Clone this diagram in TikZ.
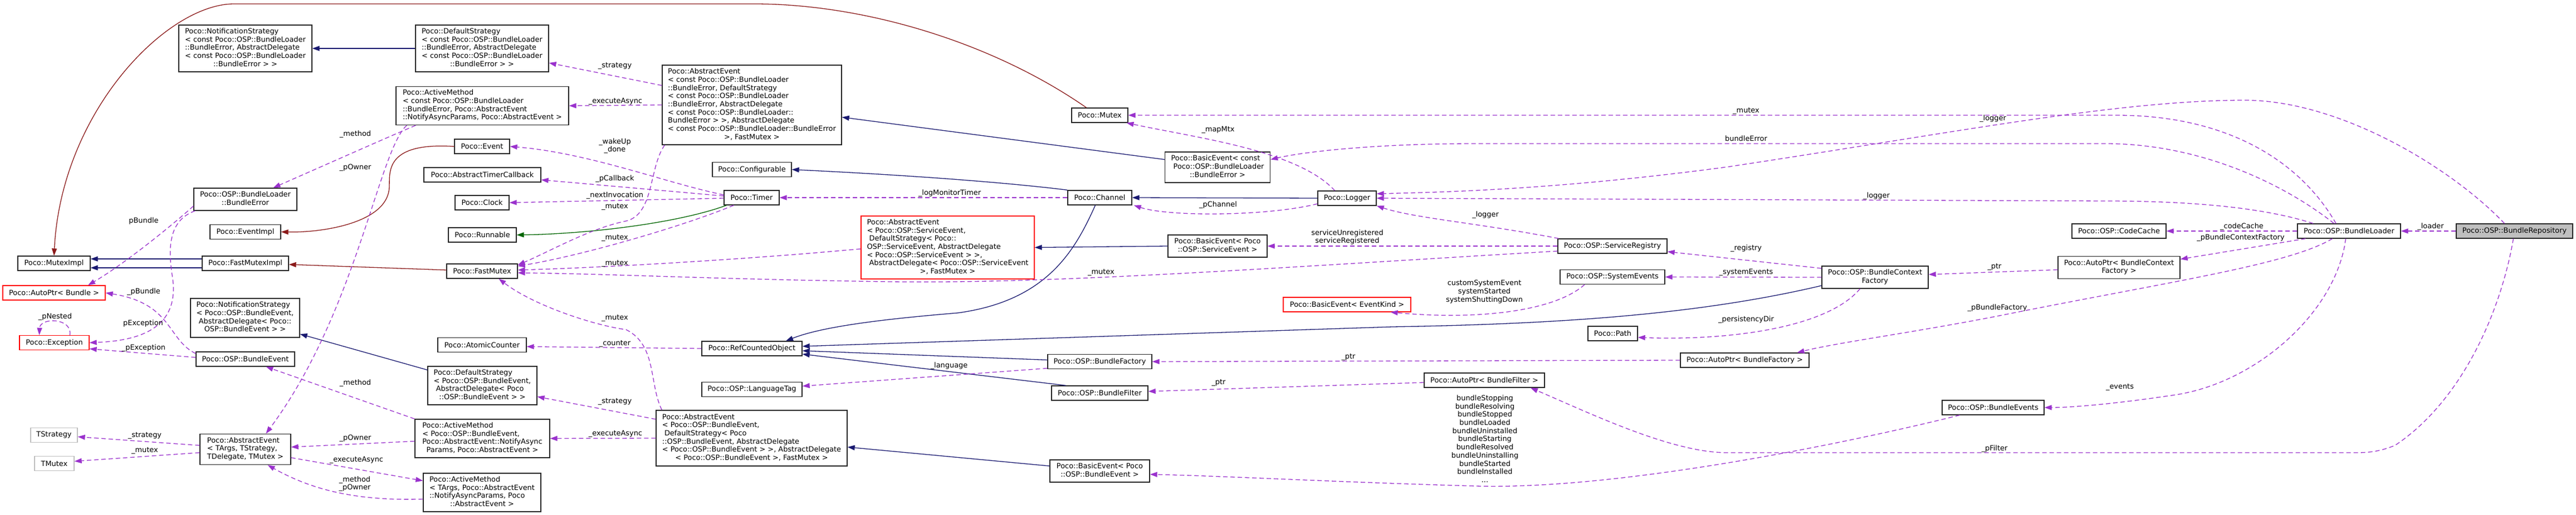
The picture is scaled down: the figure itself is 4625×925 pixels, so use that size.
\documentclass[tikz,border=0pt]{standalone}
\usepackage{fontspec}
\setmainfont{DejaVu Sans}
\usepackage{xcolor}
\usetikzlibrary{arrows.meta}

\definecolor{midblue}{HTML}{191970}
\definecolor{dkgreen}{HTML}{006400}
\definecolor{fbred}{HTML}{8B1A1A}
\definecolor{orchid}{HTML}{9A32CD}
\definecolor{tplgray}{HTML}{BFBFBF}

% left aligned lines, last line centred
\newcommand{\cname}[2]{\begin{tabular}{@{}l@{}}#1\\\multicolumn{1}{@{}c@{}}{#2}\end{tabular}}

\begin{document}
\begin{tikzpicture}[x=1pt, y=-1pt]
				\tikzstyle{every node}=[font=\fontsize{12.9}{14.7}\selectfont];
				\tikzstyle{cls}=[draw=black!85, line width=1.3pt, fill=white, inner sep=0pt];
				\tikzstyle{inc}=[cls, draw=red];
				\tikzstyle{tpl}=[cls, draw=tplgray];
				\tikzstyle{rootcls}=[cls, fill=tplgray];
				\tikzstyle{lbl}=[inner sep=0pt, align=center];
				\tikzstyle{pub}=[draw=midblue, line width=1.3pt, -{Triangle[length=13pt,width=9pt]}];
				\tikzstyle{prot}=[pub, draw=dkgreen, -{Triangle[length=13pt,width=9pt]}];
				\tikzstyle{priv}=[pub, draw=fbred, -{Triangle[length=13pt,width=9pt]}];
				\tikzstyle{member}=[draw=orchid, line width=1.3pt, dash pattern=on 8pt off 5pt, -{Triangle[length=13pt,width=9pt]}];

				\useasboundingbox (0,0) rectangle (4625,925);

				%Column 1
				\node[cls, minimum width=130pt, minimum height=26pt] (mtxImpl) at (97,473) {Poco::MutexImpl};
				\node[inc, minimum width=184pt, minimum height=26pt] (apBundle) at (97,526) {Poco::AutoPtr< Bundle >};
				\node[inc, minimum width=125pt, minimum height=26pt] (exc) at (97.5,615.5) {Poco::Exception};
				\node[tpl, minimum width=84pt, minimum height=26pt] (tStrat) at (97,781.5) {TStrategy};
				\node[tpl, minimum width=71pt, minimum height=26pt] (tMutex) at (97.5,832.5) {TMutex};

				%Column 2
				\node[cls, minimum width=239pt, minimum height=84pt] (nsBE) at (440.5,87) {\cname{Poco::NotificationStrategy\\< const Poco::OSP::BundleLoader\\::BundleError, AbstractDelegate\\< const Poco::OSP::BundleLoader}{::BundleError > >}};
				\node[cls, minimum width=185pt, minimum height=40pt] (bErr) at (440.5,358) {\cname{Poco::OSP::BundleLoader}{::BundleError}};
				\node[cls, minimum width=127pt, minimum height=26pt] (evImpl) at (440.5,416.5) {Poco::EventImpl};
				\node[cls, minimum width=155pt, minimum height=26pt] (fmImpl) at (440.5,473) {Poco::FastMutexImpl};
				\node[cls, minimum width=196pt, minimum height=70pt] (nsEv) at (440,571) {\cname{Poco::NotificationStrategy\\< Poco::OSP::BundleEvent,\\\ AbstractDelegate< Poco::}{OSP::BundleEvent > >}};
				\node[cls, minimum width=177pt, minimum height=26pt] (bEv) at (440.5,645) {Poco::OSP::BundleEvent};
				\node[cls, minimum width=163pt, minimum height=55pt] (aeT) at (440.5,807) {\cname{Poco::AbstractEvent\\< TArgs, TStrategy,}{TDelegate, TMutex >}};

				%Column 3
				\node[cls, minimum width=239pt, minimum height=84pt] (dsBE) at (865.5,87) {\cname{Poco::DefaultStrategy\\< const Poco::OSP::BundleLoader\\::BundleError, AbstractDelegate\\< const Poco::OSP::BundleLoader}{::BundleError > >}};
				\node[cls, minimum width=310pt, minimum height=69pt] (amBE) at (866,190) {\cname{Poco::ActiveMethod\\< const Poco::OSP::BundleLoader\\::BundleError, Poco::AbstractEvent}{::NotifyAsyncParams, Poco::AbstractEvent >}};
				\node[cls, minimum width=99pt, minimum height=26pt] (event) at (865.5,263) {Poco::Event};
				\node[cls, minimum width=210pt, minimum height=26pt] (atc) at (866,314) {Poco::AbstractTimerCallback};
				\node[cls, minimum width=97pt, minimum height=26pt] (clock) at (865.5,364) {Poco::Clock};
				\node[cls, minimum width=122pt, minimum height=26pt] (runnable) at (866,422) {Poco::Runnable};
				\node[cls, minimum width=127pt, minimum height=26pt] (fastMutex) at (865.5,487) {Poco::FastMutex};
				\node[cls, minimum width=159pt, minimum height=26pt] (atomic) at (865.5,619.5) {Poco::AtomicCounter};
				\node[cls, minimum width=196pt, minimum height=69pt] (dsEv) at (866,692.5) {\cname{Poco::DefaultStrategy\\< Poco::OSP::BundleEvent,\\\ AbstractDelegate< Poco}{::OSP::BundleEvent > >}};
				\node[cls, minimum width=242pt, minimum height=69pt] (amEv) at (866,787.5) {\cname{Poco::ActiveMethod\\< Poco::OSP::BundleEvent,\\Poco::AbstractEvent::NotifyAsync}{Params, Poco::AbstractEvent >}};
				\node[cls, minimum width=211pt, minimum height=69pt] (amT) at (865.5,884.5) {\cname{Poco::ActiveMethod\\< TArgs, Poco::AbstractEvent\\::NotifyAsyncParams, Poco}{::AbstractEvent >}};

				%Column 4
				\node[cls, minimum width=322pt, minimum height=143pt] (aeBE) at (1350,188.5) {\cname{Poco::AbstractEvent\\< const Poco::OSP::BundleLoader\\::BundleError, DefaultStrategy\\< const Poco::OSP::BundleLoader\\::BundleError, AbstractDelegate\\< const Poco::OSP::BundleLoader::\\BundleError > >, AbstractDelegate\\< const Poco::OSP::BundleLoader::BundleError}{>, FastMutex >}};
				\node[cls, minimum width=142pt, minimum height=26pt] (configurable) at (1350,304.5) {Poco::Configurable};
				\node[cls, minimum width=99pt, minimum height=26pt] (timer) at (1349.5,355) {Poco::Timer};
				\node[cls, minimum width=180pt, minimum height=26pt] (refCnt) at (1350,626) {Poco::RefCountedObject};
				\node[cls, minimum width=180pt, minimum height=26pt] (langTag) at (1350,699.5) {Poco::OSP::LanguageTag};
				\node[cls, minimum width=343pt, minimum height=100pt] (aeEv) at (1349.5,787) {\cname{Poco::AbstractEvent\\< Poco::OSP::BundleEvent,\\\ DefaultStrategy< Poco\\::OSP::BundleEvent, AbstractDelegate\\< Poco::OSP::BundleEvent > >, AbstractDelegate}{< Poco::OSP::BundleEvent >, FastMutex >}};

				%Column 5
				\node[inc, minimum width=311pt, minimum height=113pt] (aeSE) at (1701.5,444.5) {\cname{Poco::AbstractEvent\\< Poco::OSP::ServiceEvent,\\\ DefaultStrategy< Poco::\\OSP::ServiceEvent, AbstractDelegate\\< Poco::OSP::ServiceEvent > >,\\\ AbstractDelegate< Poco::OSP::ServiceEvent}{>, FastMutex >}};

				%Column 6
				\node[cls, minimum width=101pt, minimum height=26pt] (mutex) at (1974.5,207) {Poco::Mutex};
				\node[cls, minimum width=115pt, minimum height=26pt] (channel) at (1974.5,355) {Poco::Channel};
				\node[cls, minimum width=187pt, minimum height=26pt] (bundleFactory) at (1974.5,649.5) {Poco::OSP::BundleFactory};
				\node[cls, minimum width=173pt, minimum height=26pt] (bundleFilter) at (1974.5,706) {Poco::OSP::BundleFilter};
				\node[cls, minimum width=179pt, minimum height=40pt] (beEv) at (1974.5,846) {\cname{Poco::BasicEvent< Poco}{::OSP::BundleEvent >}};

				%Column 7
				\node[cls, minimum width=189pt, minimum height=55pt] (beBE) at (2186,300.5) {\cname{Poco::BasicEvent< const\\\ Poco::OSP::BundleLoader}{::BundleError >}};
				\node[cls, minimum width=178pt, minimum height=40pt] (beSE) at (2186,442) {\cname{Poco::BasicEvent< Poco}{::OSP::ServiceEvent >}};

				%Column 8
				\node[cls, minimum width=105pt, minimum height=26pt] (logger) at (2418.5,356) {Poco::Logger};
				\node[inc, minimum width=229pt, minimum height=26pt] (beEK) at (2418.5,547) {Poco::BasicEvent< EventKind >};

				%Column 9
				\node[cls, minimum width=216pt, minimum height=26pt] (apFilter) at (2665,683) {Poco::AutoPtr< BundleFilter >};
				\node[cls, minimum width=196pt, minimum height=26pt] (svcReg) at (2895,442) {Poco::OSP::ServiceRegistry};
				\node[cls, minimum width=188pt, minimum height=26pt] (sysEv) at (2895,497.5) {Poco::OSP::SystemEvents};
				\node[cls, minimum width=89pt, minimum height=26pt] (pocoPath) at (2895.5,599) {Poco::Path};
				\node[cls, minimum width=231pt, minimum height=26pt] (apFactory) at (3132.5,647) {Poco::AutoPtr< BundleFactory >};

				%Column 10
				\node[cls, minimum width=191pt, minimum height=40pt] (bcf) at (3366.5,498) {\cname{Poco::OSP::BundleContext}{Factory}};
				\node[cls, minimum width=183pt, minimum height=26pt] (bEvents) at (3578.5,732) {Poco::OSP::BundleEvents};
				\node[cls, minimum width=169pt, minimum height=26pt] (codeCache) at (3804.5,415) {Poco::OSP::CodeCache};
				\node[cls, minimum width=219pt, minimum height=40pt] (apBCF) at (3804.5,480.5) {\cname{Poco::AutoPtr< BundleContext}{Factory >}};
				\node[cls, minimum width=185pt, minimum height=26pt] (loader) at (4217.5,415) {Poco::OSP::BundleLoader};
				\node[rootcls, minimum width=209pt, minimum height=26pt] (repo) at (4514.5,415) {Poco::OSP::BundleRepository};

				%Inheritance
				\draw[priv] ([xshift=-24pt]mutex.north) .. controls (1780,75) and (1550,7) .. (1354,7) -- (420,7) .. controls (300,7) and (110,200) .. (mtxImpl.north);
				\draw[pub] ([yshift=8pt]fmImpl.west) -- ([yshift=8pt]mtxImpl.east);
				\draw[pub] ([yshift=-8pt]fmImpl.west) -- ([yshift=-8pt]mtxImpl.east);
				\draw[priv] ([yshift=2pt]fastMutex.west) -- ([yshift=-2pt]fmImpl.east);
				\draw[priv] (event.west) .. controls (690,255) and (700,310) .. (699,335) .. controls (698,400) and (580,418) .. (evImpl.east);
				\draw[pub] (dsBE.west) -- (nsBE.east);
				\draw[pub] ([yshift=28pt]dsEv.west) -- ([yshift=-29pt]nsEv.east);
				\draw[prot] ([xshift=-45pt]timer.south) .. controls (1220,400) and (1060,420) .. (runnable.east);
				\draw[pub] (channel.north west) .. controls (1850,333) and (1700,318) .. (configurable.east);
				\draw[pub] ([xshift=-8pt]channel.south) .. controls (1930,450) and (1880,540) .. (1720,562) .. controls (1600,572) and (1480,585) .. ([xshift=61pt]refCnt.north);
				\draw[pub] (logger.west) -- (channel.east);
				\draw[pub] ([yshift=14pt]beBE.west) -- ([yshift=-22pt]aeBE.east);
				\draw[pub] (beSE.west) -- (aeSE.east);
				\draw[pub] ([yshift=9pt]beEv.west) -- ([yshift=-16pt]aeEv.east);
				\draw[pub] ([yshift=3pt]bundleFactory.west) -- ([yshift=-4pt]refCnt.east);
				\draw[pub] ([xshift=-61pt]bundleFilter.north) -- ([yshift=-10pt]refCnt.east);
				\draw[pub] ([yshift=-15pt]bcf.west) .. controls (3050,565) and (2800,582) .. (2500,587) -- ([yshift=4pt]refCnt.east);

				%Members, left part
				\draw[member] ([xshift=36pt]amBE.south west) .. controls (700,245) .. ([xshift=50pt]bErr.north);
				\draw[member] ([xshift=20pt]amBE.south west) .. controls (680,270) and (640,560) .. ([xshift=37pt]aeT.north);
				\draw[member] ([yshift=-12pt]bErr.west) .. controls (320,395) and (230,470) .. ([xshift=61pt]apBundle.north);
				\draw[member] ([xshift=3pt]bErr.south west) .. controls (305,395) and (300,440) .. (310,500) .. controls (322,590) and (250,612) .. (exc.east);
				\draw[member] ([yshift=10pt]bEv.west) .. controls (300,610) and (310,545) .. (apBundle.east);
				\draw[member] ([yshift=3pt]bEv.west) -- ([yshift=-11pt]exc.east);
				\draw[member] ([xshift=28pt]exc.north) .. controls (130,570) and (72,570) .. ([xshift=-27pt]exc.north);
				\draw[member] ([yshift=35pt]aeBE.west) -- ([yshift=-26pt]dsBE.east);
				\draw[member] (aeBE.west) -- (amBE.east);
				\draw[member] ([xshift=5pt]aeBE.south west) .. controls (1165,300) and (1175,385) .. (1124,397) .. controls (1060,410) and (990,450) .. ([yshift=11pt]fastMutex.east);
				\draw[member] ([yshift=5pt]timer.west) .. controls (1200,330) and (1060,275) .. (event.east);
				\draw[member] ([yshift=3pt]timer.west) -- ([yshift=-9pt]atc.east);
				\draw[member] ([yshift=-1pt]timer.west) -- (clock.east);
				\draw[member] ([xshift=-32pt]timer.south) .. controls (1230,405) and (1050,458) .. ([yshift=9pt]fastMutex.east);
				\draw[member] ([yshift=-2.5pt]aeSE.west) .. controls (1350,465) and (1100,480) .. ([yshift=2pt]fastMutex.east);
				\draw[member] ([xshift=11pt]aeEv.north west) .. controls (1165,690) and (1180,620) .. (1124,592) .. controls (1070,585) and (960,550) .. ([xshift=30pt]fastMutex.south);
				\draw[member] (refCnt.west) -- ([yshift=-3pt]atomic.east);
				\draw[member] ([yshift=34pt]aeEv.west) -- ([yshift=-20pt]dsEv.east);
				\draw[member] (aeEv.west) -- (amEv.east);
				\draw[member] (amEv.north west) -- ([xshift=37pt]bEv.south);
				\draw[member] ([yshift=-5pt]amEv.west) -- ([yshift=4pt]aeT.east);
				\draw[member] ([yshift=7pt]aeT.west) -- ([yshift=-3pt]tStrat.east);
				\draw[member] ([yshift=-6pt]aeT.west) -- ([yshift=4pt]tMutex.east);
				\draw[member] ([yshift=-15pt]aeT.east) -- ([yshift=21pt]amT.west);
				\draw[member] ([yshift=-12pt]amT.west) .. controls (640,900) and (560,880) .. ([xshift=40pt]aeT.south);

				%Members, middle part
				\draw[member] (channel.west) -- (timer.east);
				\draw[member] ([yshift=-10pt]logger.west) .. controls (2280,388) and (2100,390) .. ([xshift=3pt]channel.south east);
				\draw[member] ([xshift=-22pt]logger.north) .. controls (2330,270) and (2150,248) .. ([xshift=48pt]mutex.south);
				\draw[member] (svcReg.west) -- (beSE.east);
				\draw[member] ([xshift=2pt]svcReg.north west) .. controls (2650,400) and (2540,392) .. (logger.south east);
				\draw[member] ([yshift=-9pt]svcReg.west) .. controls (2300,480) and (1900,510) .. (1600,506) .. controls (1300,502) and (1100,492) .. ([yshift=-3pt]fastMutex.east);
				\draw[member] ([yshift=-12pt]bundleFactory.west) -- ([yshift=6pt]langTag.east);
				\draw[member] (apFactory.west) -- (bundleFactory.east);
				\draw[member] ([yshift=-4pt]apFilter.west) -- ([yshift=3pt]bundleFilter.east);
				\draw[member] ([xshift=-50pt]sysEv.south) .. controls (2790,560) and (2650,575) .. ([xshift=78pt]beEK.south);

				%Members, right part
				\draw[member] ([xshift=-23.5pt]loader.north) .. controls (4130,290) and (4000,207) .. (3800,207) -- (mutex.east);
				\draw[member] ([xshift=-27pt]loader.north) .. controls (4100,330) and (3950,258) .. (3780,258) -- (2650,258) .. controls (2450,258) and (2330,275) .. ([yshift=14pt]beBE.east);
				\draw[member] ([xshift=-64.5pt]loader.north) .. controls (4050,368) and (3900,361) .. (3780,361) -- (logger.east);
				\draw[member] ([xshift=-18pt]repo.north) .. controls (4400,300) and (4200,180) .. (4030,180) .. controls (3800,180) and (3500,240) .. (3100,300) .. controls (2800,340) and (2600,345) .. ([yshift=8pt]logger.east);
				\draw[member] (loader.west) -- (codeCache.east);
				\draw[member] (repo.west) -- (loader.east);
				\draw[member] ([xshift=-78pt]loader.south) -- ([yshift=15pt]apBCF.east);
				\draw[member] ([xshift=-30pt]loader.south) .. controls (4110,475) and (3900,505) .. (3600,565) .. controls (3450,595) and (3300,615) .. ([xshift=94pt]apFactory.north);
				\draw[member] ([xshift=-6pt]loader.south) .. controls (4195,560) and (4050,690) .. (3900,710) .. controls (3800,725) and (3720,732) .. (bEvents.east);
				\draw[member] ([xshift=-2pt]repo.south) .. controls (4490,560) and (4420,720) .. (4300,800) .. controls (4270,812) and (4250,813) .. (4230,813) -- (3100,813) .. controls (3000,813) and (2850,740) .. ([xshift=83pt]apFilter.south);
				\draw[member] ([yshift=16pt]bcf.west) -- ([yshift=-10pt]svcReg.east);
				\draw[member] (bcf.west) -- (sysEv.east);
				\draw[member] ([xshift=-27pt]bcf.south) .. controls (3280,590) and (3100,612) .. ([yshift=-7pt]pocoPath.east);
				\draw[member] ([yshift=-4pt]apBCF.west) -- ([yshift=5pt]bcf.east);
				\draw[member] ([xshift=-60pt]bEvents.south) .. controls (3300,800) and (2900,880) .. (2650,873) .. controls (2400,866) and (2200,855) .. ([yshift=-6pt]beEv.east);

				%Labels
				\node[lbl] (lbMethod1) at (638,241) {\_method};
				\node[lbl] (lbOwner1) at (638,301) {\_pOwner};
				\node[lbl] (lbBundle1) at (258,397) {pBundle};
				\node[lbl] (lbExc1) at (257,581) {pException};
				\node[lbl] (lbBundle2) at (258,524) {\_pBundle};
				\node[lbl] (lbExc2) at (258,625) {\_pException};
				\node[lbl] (lbNested) at (99,569) {\_pNested};
				\node[lbl] (lbStrat1) at (1104,118) {\_strategy};
				\node[lbl] (lbAsync1) at (1105,182) {\_executeAsync};
				\node[lbl] (lbWake) at (1104,262) {\_wakeUp\\\_done};
				\node[lbl] (lbCallback) at (1104,321) {\_pCallback};
				\node[lbl] (lbNext) at (1104,351) {\_nextInvocation};
				\node[lbl] (lbMutex1) at (1104,371) {\_mutex};
				\node[lbl] (lbMutex2) at (1104,427) {\_mutex};
				\node[lbl] (lbMutex3) at (1104,473) {\_mutex};
				\node[lbl] (lbMutex4) at (1977,489) {\_mutex};
				\node[lbl] (lbMutex5) at (1104,571) {\_mutex};
				\node[lbl] (lbCounter) at (1104,617) {\_counter};
				\node[lbl] (lbStrat2) at (1104,721) {\_strategy};
				\node[lbl] (lbAsync2) at (1105,779) {\_executeAsync};
				\node[lbl] (lbMethod2) at (638,688) {\_method};
				\node[lbl] (lbOwner2) at (638,787) {\_pOwner};
				\node[lbl] (lbAsync3) at (640,826) {\_executeAsync};
				\node[lbl] (lbMethOwn) at (637,869) {\_method\\\_pOwner};
				\node[lbl] (lbStrat3) at (260,782) {\_strategy};
				\node[lbl] (lbMutex6) at (260,809) {\_mutex};
				\node[lbl] (lbMonitor) at (1705,347) {\_logMonitorTimer};
				\node[lbl] (lbMapMtx) at (2187,233) {\_mapMtx};
				\node[lbl] (lbChannel) at (2187,368) {\_pChannel};
				\node[lbl] (lbService) at (2419,426) {serviceUnregistered\\serviceRegistered};
				\node[lbl] (lbLanguage) at (1704,657) {\_language};
				\node[lbl] (lbPtr1) at (2421,641) {\_ptr};
				\node[lbl] (lbPtr2) at (2188,687) {\_ptr};
				\node[lbl] (lbMutex7) at (3135,199) {\_mutex};
				\node[lbl] (lbBundleError) at (3135,249) {bundleError};
				\node[lbl] (lbLogger1) at (3578,213) {\_logger};
				\node[lbl] (lbLogger2) at (3369,352) {\_logger};
				\node[lbl] (lbLogger3) at (2667,386) {\_logger};
				\node[lbl] (lbRegistry) at (3135,446) {\_registry};
				\node[lbl] (lbSysEvents) at (3135,489) {\_systemEvents};
				\node[lbl] (lbSysList) at (2665,524) {customSystemEvent\\systemStarted\\systemShuttingDown};
				\node[lbl] (lbPersist) at (3135,574) {\_persistencyDir};
				\node[lbl] (lbBFactory) at (3586,553) {\_pBundleFactory};
				\node[lbl] (lbPtr3) at (3581,479) {\_ptr};
				\node[lbl] (lbEvList) at (2666,788) {bundleStopping\\bundleResolving\\bundleStopped\\bundleLoaded\\bundleUninstalled\\bundleStarting\\bundleResolved\\bundleUninstalling\\bundleStarted\\bundleInstalled\\...};
				\node[lbl] (lbFilter) at (3581,806) {\_pFilter};
				\node[lbl] (lbEvents) at (3806,695) {\_events};
				\node[lbl] (lbCode) at (4025,407) {\_codeCache};
				\node[lbl] (lbBCF) at (4023,427) {\_pBundleContextFactory};
				\node[lbl] (lbLoader) at (4364,407) {\_loader};

\end{tikzpicture}
\end{document}
